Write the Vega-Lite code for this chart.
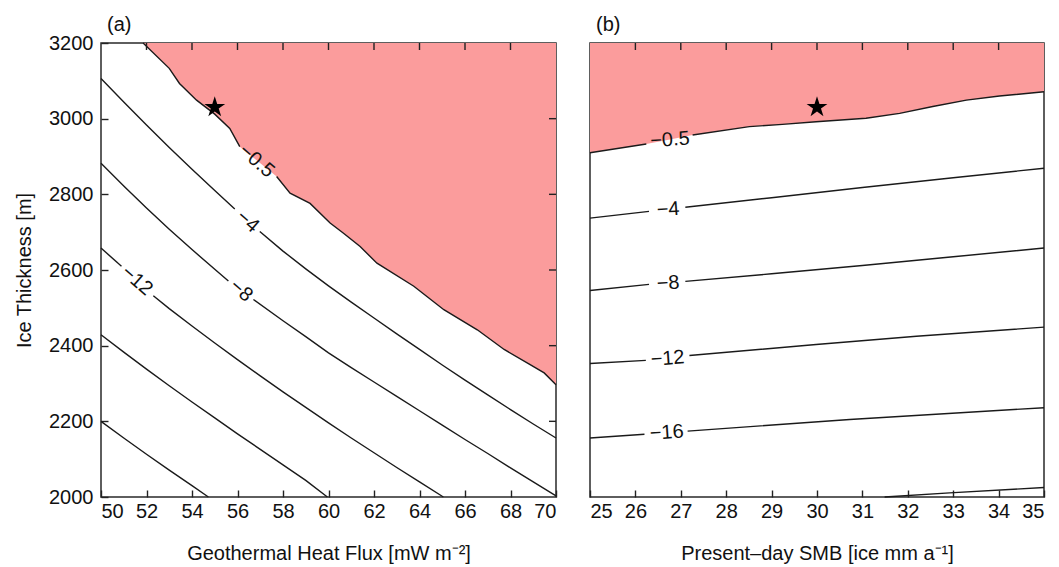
{
  "$schema": "https://vega.github.io/schema/vega-lite/v6.json",
  "padding": {"left": 13, "top": 14, "right": 5, "bottom": 0},
  "config": {
    "font": "Liberation Sans",
    "view": {"stroke": "#2a2a2a", "strokeWidth": 1.5},
    "axis": {
      "grid": false,
      "domain": false,
      "offset": -7,
      "ticks": true,
      "tickOpacity": 1,
      "tickColor": "#222",
      "tickWidth": 1.4,
      "tickSize": 7,
      "format": "d",
      "labelFontSize": 20,
      "labelColor": "#111",
      "titleFontSize": 20,
      "titleFontWeight": "normal",
      "titleColor": "#111"
    },
    "axisX": {"labelPadding": 4},
    "axisY": {"labelPadding": 8},
    "tick": {"thickness": 1.4, "size": 14, "color": "#222", "opacity": 1},
    "title": {"fontSize": 20, "fontWeight": "normal", "anchor": "start", "frame": "group", "color": "#111"}
  },
  "datasets": {
    "tickGhf": [{"v": 52}, {"v": 54}, {"v": 56}, {"v": 58}, {"v": 60}, {"v": 62}, {"v": 64}, {"v": 66}, {"v": 68}],
    "tickH": [{"v": 2200}, {"v": 2400}, {"v": 2600}, {"v": 2800}, {"v": 3000}],
    "tickSmb": [{"v": 26}, {"v": 27}, {"v": 28}, {"v": 29}, {"v": 30}, {"v": 31}, {"v": 32}, {"v": 33}, {"v": 34}],
    "linesA": [
      {"seg": "m05a", "ghf": 51.85, "h": 3200}, {"seg": "m05a", "ghf": 53.0, "h": 3133}, {"seg": "m05a", "ghf": 53.45, "h": 3093},
      {"seg": "m05a", "ghf": 54.2, "h": 3049}, {"seg": "m05a", "ghf": 55.0, "h": 3012}, {"seg": "m05a", "ghf": 55.66, "h": 2974},
      {"seg": "m05a", "ghf": 56.1, "h": 2926},
      {"seg": "m05b", "ghf": 57.72, "h": 2847}, {"seg": "m05b", "ghf": 58.31, "h": 2803}, {"seg": "m05b", "ghf": 59.19, "h": 2776},
      {"seg": "m05b", "ghf": 60.07, "h": 2724}, {"seg": "m05b", "ghf": 60.66, "h": 2697}, {"seg": "m05b", "ghf": 61.39, "h": 2662},
      {"seg": "m05b", "ghf": 62.13, "h": 2618}, {"seg": "m05b", "ghf": 63.75, "h": 2557}, {"seg": "m05b", "ghf": 65.07, "h": 2495},
      {"seg": "m05b", "ghf": 66.54, "h": 2442}, {"seg": "m05b", "ghf": 67.72, "h": 2390}, {"seg": "m05b", "ghf": 68.75, "h": 2354},
      {"seg": "m05b", "ghf": 69.48, "h": 2328}, {"seg": "m05b", "ghf": 70, "h": 2297},
      {"seg": "m4a", "ghf": 50, "h": 3106}, {"seg": "m4a", "ghf": 51, "h": 3044}, {"seg": "m4a", "ghf": 52, "h": 2983},
      {"seg": "m4a", "ghf": 53, "h": 2924}, {"seg": "m4a", "ghf": 54, "h": 2866}, {"seg": "m4a", "ghf": 55, "h": 2810},
      {"seg": "m4a", "ghf": 55.88, "h": 2761},
      {"seg": "m4b", "ghf": 56.98, "h": 2702}, {"seg": "m4b", "ghf": 58, "h": 2650}, {"seg": "m4b", "ghf": 59, "h": 2603},
      {"seg": "m4b", "ghf": 60, "h": 2558}, {"seg": "m4b", "ghf": 61, "h": 2515}, {"seg": "m4b", "ghf": 62, "h": 2473},
      {"seg": "m4b", "ghf": 63, "h": 2431}, {"seg": "m4b", "ghf": 64, "h": 2390}, {"seg": "m4b", "ghf": 65, "h": 2349},
      {"seg": "m4b", "ghf": 66, "h": 2309}, {"seg": "m4b", "ghf": 67, "h": 2270}, {"seg": "m4b", "ghf": 68, "h": 2231},
      {"seg": "m4b", "ghf": 69, "h": 2193}, {"seg": "m4b", "ghf": 70, "h": 2156},
      {"seg": "m8a", "ghf": 50, "h": 2882}, {"seg": "m8a", "ghf": 51, "h": 2822}, {"seg": "m8a", "ghf": 52, "h": 2764},
      {"seg": "m8a", "ghf": 53, "h": 2708}, {"seg": "m8a", "ghf": 54, "h": 2654}, {"seg": "m8a", "ghf": 55, "h": 2602},
      {"seg": "m8a", "ghf": 55.6, "h": 2571},
      {"seg": "m8b", "ghf": 56.7, "h": 2522}, {"seg": "m8b", "ghf": 58, "h": 2466}, {"seg": "m8b", "ghf": 59, "h": 2424},
      {"seg": "m8b", "ghf": 60, "h": 2381}, {"seg": "m8b", "ghf": 61, "h": 2342}, {"seg": "m8b", "ghf": 62, "h": 2304},
      {"seg": "m8b", "ghf": 63, "h": 2266}, {"seg": "m8b", "ghf": 64, "h": 2228}, {"seg": "m8b", "ghf": 65, "h": 2190},
      {"seg": "m8b", "ghf": 66, "h": 2152}, {"seg": "m8b", "ghf": 67, "h": 2115}, {"seg": "m8b", "ghf": 68, "h": 2077},
      {"seg": "m8b", "ghf": 69, "h": 2040}, {"seg": "m8b", "ghf": 70, "h": 2003},
      {"seg": "m12a", "ghf": 50, "h": 2658}, {"seg": "m12a", "ghf": 50.9, "h": 2610},
      {"seg": "m12b", "ghf": 52.3, "h": 2532}, {"seg": "m12b", "ghf": 53, "h": 2498}, {"seg": "m12b", "ghf": 54, "h": 2452},
      {"seg": "m12b", "ghf": 55, "h": 2407}, {"seg": "m12b", "ghf": 56, "h": 2363}, {"seg": "m12b", "ghf": 57, "h": 2320},
      {"seg": "m12b", "ghf": 58, "h": 2278}, {"seg": "m12b", "ghf": 59, "h": 2237}, {"seg": "m12b", "ghf": 60, "h": 2196},
      {"seg": "m12b", "ghf": 61, "h": 2156}, {"seg": "m12b", "ghf": 62, "h": 2117}, {"seg": "m12b", "ghf": 63, "h": 2078},
      {"seg": "m12b", "ghf": 64, "h": 2040}, {"seg": "m12b", "ghf": 65.05, "h": 2000},
      {"seg": "m16", "ghf": 50, "h": 2429}, {"seg": "m16", "ghf": 51, "h": 2383}, {"seg": "m16", "ghf": 52, "h": 2338},
      {"seg": "m16", "ghf": 53, "h": 2294}, {"seg": "m16", "ghf": 54, "h": 2251}, {"seg": "m16", "ghf": 55, "h": 2209},
      {"seg": "m16", "ghf": 56, "h": 2167}, {"seg": "m16", "ghf": 57, "h": 2126}, {"seg": "m16", "ghf": 58, "h": 2085},
      {"seg": "m16", "ghf": 59, "h": 2044}, {"seg": "m16", "ghf": 59.95, "h": 2000},
      {"seg": "m20", "ghf": 50, "h": 2200}, {"seg": "m20", "ghf": 51, "h": 2156}, {"seg": "m20", "ghf": 52, "h": 2113},
      {"seg": "m20", "ghf": 53, "h": 2071}, {"seg": "m20", "ghf": 54, "h": 2030}, {"seg": "m20", "ghf": 54.72, "h": 2000}
    ],
    "zoneA": [
      {"ghf": 51.85, "h": 3200}, {"ghf": 53.0, "h": 3133}, {"ghf": 53.45, "h": 3093}, {"ghf": 54.2, "h": 3049},
      {"ghf": 55.0, "h": 3012}, {"ghf": 55.66, "h": 2974}, {"ghf": 56.1, "h": 2926}, {"ghf": 56.84, "h": 2890},
      {"ghf": 57.72, "h": 2847}, {"ghf": 58.31, "h": 2803}, {"ghf": 59.19, "h": 2776}, {"ghf": 60.07, "h": 2724},
      {"ghf": 60.66, "h": 2697}, {"ghf": 61.39, "h": 2662}, {"ghf": 62.13, "h": 2618}, {"ghf": 63.75, "h": 2557},
      {"ghf": 65.07, "h": 2495}, {"ghf": 66.54, "h": 2442}, {"ghf": 67.72, "h": 2390}, {"ghf": 68.75, "h": 2354},
      {"ghf": 69.48, "h": 2328}, {"ghf": 70, "h": 2297}
    ],
    "labelsA": [
      {"ghf": 56.84, "h": 2888, "label": "−0.5"},
      {"ghf": 56.45, "h": 2728, "label": "−4"},
      {"ghf": 56.16, "h": 2545, "label": "−8"},
      {"ghf": 51.58, "h": 2572, "label": "−12"}
    ],
    "starA": [{"ghf": 55, "h": 3030}],
    "linesB": [
      {"seg": "m05a", "smb": 25, "h": 2910}, {"seg": "m05a", "smb": 26.24, "h": 2933},
      {"seg": "m05b", "smb": 27.26, "h": 2957}, {"seg": "m05b", "smb": 28.51, "h": 2979}, {"seg": "m05b", "smb": 29.24, "h": 2985},
      {"seg": "m05b", "smb": 29.98, "h": 2992}, {"seg": "m05b", "smb": 31.08, "h": 3001}, {"seg": "m05b", "smb": 31.82, "h": 3014},
      {"seg": "m05b", "smb": 32.55, "h": 3032}, {"seg": "m05b", "smb": 33.29, "h": 3049}, {"seg": "m05b", "smb": 34.02, "h": 3060},
      {"seg": "m05b", "smb": 35, "h": 3071},
      {"seg": "m4a", "smb": 25, "h": 2737}, {"seg": "m4a", "smb": 26.3, "h": 2755},
      {"seg": "m4b", "smb": 27.1, "h": 2766}, {"seg": "m4b", "smb": 29, "h": 2791}, {"seg": "m4b", "smb": 31, "h": 2818},
      {"seg": "m4b", "smb": 33, "h": 2844}, {"seg": "m4b", "smb": 35, "h": 2869},
      {"seg": "m8a", "smb": 25, "h": 2546}, {"seg": "m8a", "smb": 26.3, "h": 2562},
      {"seg": "m8b", "smb": 27.1, "h": 2570}, {"seg": "m8b", "smb": 29, "h": 2590}, {"seg": "m8b", "smb": 31, "h": 2612},
      {"seg": "m8b", "smb": 33, "h": 2635}, {"seg": "m8b", "smb": 35, "h": 2658},
      {"seg": "m12a", "smb": 25, "h": 2353}, {"seg": "m12a", "smb": 26.23, "h": 2361},
      {"seg": "m12b", "smb": 27.19, "h": 2374}, {"seg": "m12b", "smb": 29.98, "h": 2403}, {"seg": "m12b", "smb": 32.19, "h": 2425},
      {"seg": "m12b", "smb": 35, "h": 2449},
      {"seg": "m16a", "smb": 25, "h": 2156}, {"seg": "m16a", "smb": 26.2, "h": 2166},
      {"seg": "m16b", "smb": 27.15, "h": 2174}, {"seg": "m16b", "smb": 30.72, "h": 2205}, {"seg": "m16b", "smb": 35, "h": 2236},
      {"seg": "m20", "smb": 31.49, "h": 2000}, {"seg": "m20", "smb": 32.92, "h": 2011}, {"seg": "m20", "smb": 35, "h": 2025}
    ],
    "zoneB": [
      {"smb": 25, "h": 2910}, {"smb": 26.24, "h": 2933}, {"smb": 26.76, "h": 2945}, {"smb": 27.26, "h": 2957},
      {"smb": 28.51, "h": 2979}, {"smb": 29.24, "h": 2985}, {"smb": 29.98, "h": 2992}, {"smb": 31.08, "h": 3001},
      {"smb": 31.82, "h": 3014}, {"smb": 32.55, "h": 3032}, {"smb": 33.29, "h": 3049}, {"smb": 34.02, "h": 3060},
      {"smb": 35, "h": 3071}
    ],
    "labelsB": [
      {"smb": 26.76, "h": 2944, "label": "−0.5"},
      {"smb": 26.72, "h": 2760, "label": "−4"},
      {"smb": 26.72, "h": 2565, "label": "−8"},
      {"smb": 26.71, "h": 2366, "label": "−12"},
      {"smb": 26.69, "h": 2170, "label": "−16"}
    ],
    "starB": [{"smb": 30, "h": 3030}]
  },
  "spacing": 26,
  "hconcat": [
    {
      "width": 455,
      "height": 454,
      "title": {"text": "(a)", "dx": 6, "offset": -2},
      "layer": [
        {
          "data": {"name": "zoneA"},
          "mark": {"type": "area", "color": "#fb9c9c", "opacity": 1},
          "encoding": {
            "x": {"field": "ghf", "type": "quantitative", "scale": {"domain": [50, 70], "nice": false, "zero": false},
                  "axis": {"orient": "bottom", "values": [50, 52, 54, 56, 58, 60, 62, 64, 66, 68, 70], "title": "Geothermal Heat Flux [mW m⁻²]", "titlePadding": 22}},
            "y": {"field": "h", "type": "quantitative", "scale": {"domain": [2000, 3200], "nice": false, "zero": false},
                  "axis": {"orient": "left", "values": [2000, 2200, 2400, 2600, 2800, 3000, 3200], "title": "Ice Thickness [m]", "titlePadding": 14}},
            "y2": {"datum": 3200}
          }
        },
        {
          "data": {"name": "linesA"},
          "mark": {"type": "line", "color": "#1a1a1a", "strokeWidth": 1.4},
          "encoding": {
            "x": {"field": "ghf", "type": "quantitative"},
            "y": {"field": "h", "type": "quantitative"},
            "detail": {"field": "seg"}
          }
        },
        {
          "data": {"name": "labelsA"},
          "mark": {"type": "text", "fontSize": 20, "angle": 41, "color": "#111"},
          "encoding": {
            "x": {"field": "ghf", "type": "quantitative"},
            "y": {"field": "h", "type": "quantitative"},
            "text": {"field": "label"}
          }
        },
        {
          "data": {"name": "starA"},
          "mark": {"type": "point", "shape": "M0,-1L0.2245,-0.309L0.951,-0.309L0.363,0.118L0.588,0.809L0,0.382L-0.588,0.809L-0.363,0.118L-0.951,-0.309L-0.2245,-0.309Z", "filled": true, "color": "#000", "opacity": 1, "size": 480},
          "encoding": {
            "x": {"field": "ghf", "type": "quantitative"},
            "y": {"field": "h", "type": "quantitative"}
          }
        },
        {
          "data": {"name": "tickGhf"},
          "mark": {"type": "tick", "orient": "vertical", "clip": true},
          "encoding": {
            "x": {"field": "v", "type": "quantitative"},
            "y": {"datum": 3200}
          }
        },
        {
          "data": {"name": "tickH"},
          "mark": {"type": "tick", "orient": "horizontal", "clip": true},
          "encoding": {
            "x": {"datum": 70},
            "y": {"field": "v", "type": "quantitative"}
          }
        }
      ]
    },
    {
      "width": 454,
      "height": 454,
      "title": {"text": "(b)", "dx": 6, "offset": 8},
      "layer": [
        {
          "data": {"name": "zoneB"},
          "mark": {"type": "area", "color": "#fb9c9c", "opacity": 1},
          "encoding": {
            "x": {"field": "smb", "type": "quantitative", "scale": {"domain": [25, 35], "nice": false, "zero": false},
                  "axis": {"orient": "bottom", "values": [25, 26, 27, 28, 29, 30, 31, 32, 33, 34, 35], "title": "Present–day SMB [ice mm a⁻¹]", "titlePadding": 22}},
            "y": {"field": "h", "type": "quantitative", "scale": {"domain": [2000, 3200], "nice": false, "zero": false}, "axis": null},
            "y2": {"datum": 3200}
          }
        },
        {
          "data": {"name": "linesB"},
          "mark": {"type": "line", "color": "#1a1a1a", "strokeWidth": 1.4},
          "encoding": {
            "x": {"field": "smb", "type": "quantitative"},
            "y": {"field": "h", "type": "quantitative"},
            "detail": {"field": "seg"}
          }
        },
        {
          "data": {"name": "labelsB"},
          "mark": {"type": "text", "fontSize": 20, "angle": -4, "color": "#111"},
          "encoding": {
            "x": {"field": "smb", "type": "quantitative"},
            "y": {"field": "h", "type": "quantitative"},
            "text": {"field": "label"}
          }
        },
        {
          "data": {"name": "starB"},
          "mark": {"type": "point", "shape": "M0,-1L0.2245,-0.309L0.951,-0.309L0.363,0.118L0.588,0.809L0,0.382L-0.588,0.809L-0.363,0.118L-0.951,-0.309L-0.2245,-0.309Z", "filled": true, "color": "#000", "opacity": 1, "size": 480},
          "encoding": {
            "x": {"field": "smb", "type": "quantitative"},
            "y": {"field": "h", "type": "quantitative"}
          }
        },
        {
          "data": {"name": "tickSmb"},
          "mark": {"type": "tick", "orient": "vertical", "clip": true},
          "encoding": {
            "x": {"field": "v", "type": "quantitative"},
            "y": {"datum": 3200}
          }
        }
      ]
    }
  ]
}
